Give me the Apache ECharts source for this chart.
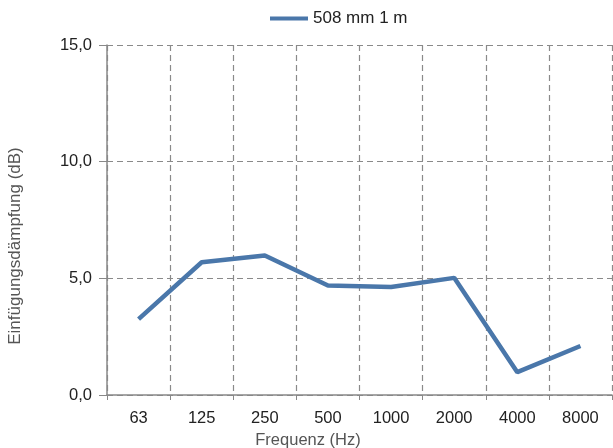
<!DOCTYPE html>
<html><head><meta charset="utf-8">
<script src="https://cdn.jsdelivr.net/npm/echarts@6/dist/echarts.min.js"></script>
<style>html,body{margin:0;padding:0;background:#fff}#c{width:613px;height:448px}</style>
</head><body><div id="c"></div>
<script>
const categories = ['63','125','250','500','1000','2000','4000','8000'];
const seriesName = '508 mm 1 m';
const values = [3.25, 5.69, 5.98, 4.69, 4.63, 5.02, 0.98, 2.1];
const yTicks = [0, 5, 10, 15];

const chart = echarts.init(document.getElementById('c'));
chart.setOption({
  animation: false,
  textStyle: {fontFamily: 'Liberation Sans, Arial, sans-serif'},
  legend: {
    top: 10, left: 270, padding: 0,
    itemWidth: 38, itemHeight: 4, itemGap: 0,
    icon: 'rect',
    textStyle: {fontSize: 17, color: '#222'},
    data: [seriesName]
  },
  grid: {left: 107, right: 1, top: 45, bottom: 53, outerBoundsMode: 'none', containLabel: false},
  xAxis: {
    type: 'category', data: categories, boundaryGap: true,
    axisLine: {lineStyle: {color: '#888', width: 1.5}},
    axisTick: {show: true, length: 5, lineStyle: {color: '#888'}},
    axisLabel: {fontSize: 16.5, color: '#222', margin: 15},
    splitLine: {show: true, lineStyle: {type: [6,4], color: '#8a8a8a', width: 1.2}},
    name: 'Frequenz (Hz)', nameLocation: 'middle', nameGap: 34,
    nameTextStyle: {fontSize: 16.5, color: '#555', padding: [0, 103, 0, 0]}
  },
  yAxis: {
    type: 'value', min: 0, max: 15, interval: 5,
    axisLine: {show: true, lineStyle: {color: '#888', width: 1.5}},
    axisTick: {show: true, length: 8, lineStyle: {color: '#888'}},
    axisLabel: {fontSize: 16.5, color: '#222', margin: 15,
      formatter: v => yTicks.includes(v) ? v.toFixed(1).replace('.', ',') : ''},
    splitLine: {show: true, lineStyle: {type: [6,4], color: '#8a8a8a', width: 1.2}},
    name: 'Einfügungsdämpfung (dB)', nameLocation: 'middle', nameGap: 83,
    nameTextStyle: {fontSize: 17, color: '#555', padding: [0, 52, 0, 0]}
  },
  series: [{
    name: seriesName, type: 'line', data: values,
    symbol: 'none',
    lineStyle: {color: '#4a77aa', width: 4.5},
    itemStyle: {color: '#4a77aa'}
  }]
});
</script></body></html>
